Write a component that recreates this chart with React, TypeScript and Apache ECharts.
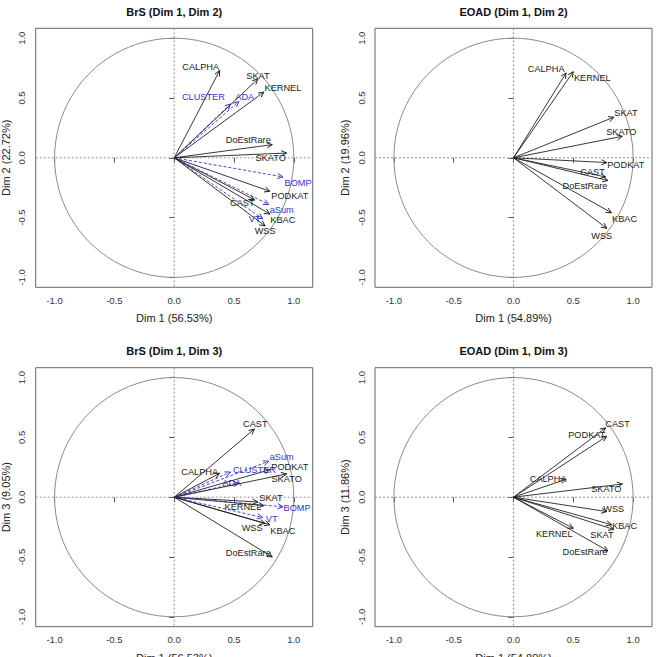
import React, { useEffect, useRef } from "react";
import * as echarts from "echarts";

// Variable correlations with the principal components, BrS method set
const brsVariables = ["CALPHA", "SKAT", "KERNEL", "CLUSTER", "ADA", "DoEstRare", "SKATO", "BOMP", "PODKAT", "CAST", "aSum", "KBAC", "VT", "WSS"];
const brsDim1 = [0.38, 0.70, 0.75, 0.47, 0.54, 0.82, 0.94, 0.91, 0.80, 0.67, 0.79, 0.80, 0.74, 0.76];
const brsDim2 = [0.73, 0.66, 0.55, 0.45, 0.47, 0.11, 0.04, -0.16, -0.28, -0.35, -0.39, -0.47, -0.51, -0.57];
const brsDim3 = [0.20, -0.04, -0.07, 0.21, 0.12, -0.50, 0.195, -0.08, 0.23, 0.57, 0.30, -0.23, -0.17, -0.22];
const brsAdaptive = ["CLUSTER", "ADA", "BOMP", "aSum", "VT"];
const brsVariance = [56.53, 22.72, 9.05];

// EOAD method set
const eoadVariables = ["CALPHA", "KERNEL", "SKAT", "SKATO", "PODKAT", "CAST", "DoEstRare", "KBAC", "WSS"];
const eoadDim1 = [0.44, 0.50, 0.84, 0.91, 0.78, 0.77, 0.79, 0.82, 0.78];
const eoadDim2 = [0.71, 0.72, 0.34, 0.18, -0.04, -0.16, -0.19, -0.46, -0.59];
const eoadDim3 = [0.15, -0.26, -0.27, 0.11, 0.51, 0.58, -0.45, -0.23, -0.12];
const eoadAdaptive: string[] = [];
const eoadVariance = [54.89, 19.96, 11.86];

const tickValues = [-1, -0.5, 0, 0.5, 1];

// Label placement (pixel shift of each label from its arrow tip)
const labelShift: Record<string, Record<string, [number, number]>> = {
  brs12: { CALPHA: [-19, -4], SKAT: [0, -3], KERNEL: [19, -4], CLUSTER: [-27, -7], ADA: [6, -5], DoEstRare: [-24, -5], SKATO: [-16, 5], BOMP: [15, 6], PODKAT: [20, 5], CAST: [-12, 3], aSum: [13, 6], KBAC: [13, 6], VT: [-8, 0], WSS: [0, 5] },
  eoad12: { CALPHA: [-20, -4], KERNEL: [19, 6], SKAT: [12, -4], SKATO: [-1, -4], PODKAT: [19, 2], CAST: [-13, -5], DoEstRare: [-23, 5], KBAC: [13, 6], WSS: [-5, 8] },
  brs13: { CAST: [1, -5], aSum: [13, -4], PODKAT: [20, -3], CLUSTER: [24, -2], SKATO: [0, 5], CALPHA: [-20, -1], ADA: [-7, 0], SKAT: [13, -4], KERNEL: [-21, 1], BOMP: [14, 1], VT: [9, 1], WSS: [-13, 4], KBAC: [13, 6], DoEstRare: [-24, -4] },
  eoad13: { CAST: [12, -4], PODKAT: [-20, -1], CALPHA: [-18, 0], SKATO: [-16, 5], WSS: [7, -3], KBAC: [13, 1], SKAT: [-12, 6], KERNEL: [-19, 6], DoEstRare: [-23, 1] },
};

const FONT = '"Liberation Sans", Arial, Helvetica, sans-serif';
const INK = "#222222";
const BLUE = "#3434c8";
const GRID_W = 277;
const GRID_H = 259;
const X_EXT = 1.158;
const Y_EXT = 1.083;

interface Panel {
  key: string;
  title: string;
  names: string[];
  xs: number[];
  ys: number[];
  adaptive: string[];
  xTitle: string;
  yTitle: string;
  left: number;
  top: number;
}

const panels: Panel[] = [
  { key: "brs12", title: "BrS (Dim 1, Dim 2)", names: brsVariables, xs: brsDim1, ys: brsDim2, adaptive: brsAdaptive, xTitle: `Dim 1 (${brsVariance[0].toFixed(2)}%)`, yTitle: `Dim 2 (${brsVariance[1].toFixed(2)}%)`, left: 35.7, top: 28.3 },
  { key: "eoad12", title: "EOAD (Dim 1, Dim 2)", names: eoadVariables, xs: eoadDim1, ys: eoadDim2, adaptive: eoadAdaptive, xTitle: `Dim 1 (${eoadVariance[0].toFixed(2)}%)`, yTitle: `Dim 2 (${eoadVariance[1].toFixed(2)}%)`, left: 375, top: 28.3 },
  { key: "brs13", title: "BrS (Dim 1, Dim 3)", names: brsVariables, xs: brsDim1, ys: brsDim3, adaptive: brsAdaptive, xTitle: `Dim 1 (${brsVariance[0].toFixed(2)}%)`, yTitle: `Dim 3 (${brsVariance[2].toFixed(2)}%)`, left: 35.7, top: 367.7 },
  { key: "eoad13", title: "EOAD (Dim 1, Dim 3)", names: eoadVariables, xs: eoadDim1, ys: eoadDim3, adaptive: eoadAdaptive, xTitle: `Dim 1 (${eoadVariance[0].toFixed(2)}%)`, yTitle: `Dim 3 (${eoadVariance[2].toFixed(2)}%)`, left: 375, top: 367.7 },
];

function buildOption() {
  const grid: any[] = [];
  const xAxis: any[] = [];
  const yAxis: any[] = [];
  const series: any[] = [];
  const graphic: any[] = [];

  panels.forEach((p, gi) => {
    grid.push({ left: p.left, top: p.top, width: GRID_W, height: GRID_H, show: true, borderColor: "#666", borderWidth: 1, backgroundColor: "transparent" });
    const axisCommon = {
      type: "value",
      gridIndex: gi,
      axisLine: { show: false },
      splitLine: { show: false },
      axisTick: { show: true, length: 5, lineStyle: { color: "#555" }, customValues: tickValues },
      axisLabel: { customValues: tickValues, formatter: (v: number) => v.toFixed(1), fontSize: 9.5, fontFamily: FONT, color: "#333", margin: 8 },
    };
    xAxis.push({ ...axisCommon, min: -X_EXT, max: X_EXT });
    yAxis.push({ ...axisCommon, min: -Y_EXT, max: Y_EXT, axisLabel: { ...axisCommon.axisLabel, rotate: 90, margin: 9 } });

    // correlation circle and the zero reference lines
    series.push({
      type: "custom",
      xAxisIndex: gi,
      yAxisIndex: gi,
      silent: true,
      data: [[0, 0]],
      renderItem: (params: any, api: any) => {
        const cs = params.coordSys;
        const o = api.coord([0, 0]);
        const r = api.coord([1, 0])[0] - o[0];
        return {
          type: "group",
          children: [
            { type: "circle", shape: { cx: o[0], cy: o[1], r }, style: { fill: "none", stroke: "#8a8a8a", lineWidth: 1 } },
            { type: "line", shape: { x1: cs.x, y1: o[1], x2: cs.x + cs.width, y2: o[1] }, style: { stroke: "#777", lineWidth: 0.8, lineDash: [2, 2] } },
            { type: "line", shape: { x1: o[0], y1: cs.y, x2: o[0], y2: cs.y + cs.height }, style: { stroke: "#777", lineWidth: 0.8, lineDash: [2, 2] } },
          ],
        };
      },
    });

    // variable arrows with their labels
    const shifts = labelShift[p.key];
    series.push({
      type: "custom",
      xAxisIndex: gi,
      yAxisIndex: gi,
      silent: true,
      data: p.names.map((n, i) => ({ name: n, value: [p.xs[i], p.ys[i]] })),
      renderItem: (params: any, api: any) => {
        const i = params.dataIndex;
        const name = p.names[i];
        const isAdaptive = p.adaptive.includes(name);
        const color = isAdaptive ? BLUE : INK;
        const o = api.coord([0, 0]);
        const t = api.coord([api.value(0), api.value(1)]);
        const ang = Math.atan2(t[1] - o[1], t[0] - o[0]);
        const L = 6;
        const a = Math.PI / 7;
        const h1 = [t[0] - L * Math.cos(ang - a), t[1] - L * Math.sin(ang - a)];
        const h2 = [t[0] - L * Math.cos(ang + a), t[1] - L * Math.sin(ang + a)];
        const sh = shifts[name] || [0, 0];
        return {
          type: "group",
          children: [
            { type: "line", shape: { x1: o[0], y1: o[1], x2: t[0], y2: t[1] }, style: { stroke: color, lineWidth: 1, lineDash: isAdaptive ? [3, 2] : null, opacity: 0.9 } },
            { type: "polyline", shape: { points: [h1, t, h2] }, style: { stroke: color, fill: "none", lineWidth: 1 } },
            {
              type: "text",
              x: t[0] + sh[0],
              y: t[1] + sh[1],
              style: { text: name, align: "center", verticalAlign: "middle", textAlign: "center", textVerticalAlign: "middle", fill: color, fontSize: 9.2, fontFamily: FONT },
            },
          ],
        };
      },
    });

    const cx = p.left + GRID_W / 2;
    const cy = p.top + GRID_H / 2;
    graphic.push(
      { type: "text", x: cx, y: p.top - 16.5, style: { text: p.title, align: "center", verticalAlign: "middle", textAlign: "center", textVerticalAlign: "middle", fill: "#111", fontSize: 11, fontWeight: "bold", fontFamily: FONT } },
      { type: "text", x: cx, y: p.top + GRID_H + 31, style: { text: p.xTitle, align: "center", verticalAlign: "middle", textAlign: "center", textVerticalAlign: "middle", fill: "#222", fontSize: 11, fontFamily: FONT } },
      { type: "text", x: p.left - 30.2, y: cy, rotation: Math.PI / 2, style: { text: p.yTitle, align: "center", verticalAlign: "middle", textAlign: "center", textVerticalAlign: "middle", fill: "#222", fontSize: 11, fontFamily: FONT } }
    );
  });

  return { animation: false, backgroundColor: "#ffffff", grid, xAxis, yAxis, series, graphic };
}

export default function App() {
  const ref = useRef<HTMLDivElement>(null);
  useEffect(() => {
    if (!ref.current) return;
    const chart = echarts.init(ref.current, null, { renderer: "svg" });
    chart.setOption(buildOption() as any);
    return () => chart.dispose();
  }, []);
  return <div ref={ref} style={{ position: "absolute", left: 0, top: 0, width: 657, height: 657, background: "#fff" }} />;
}
